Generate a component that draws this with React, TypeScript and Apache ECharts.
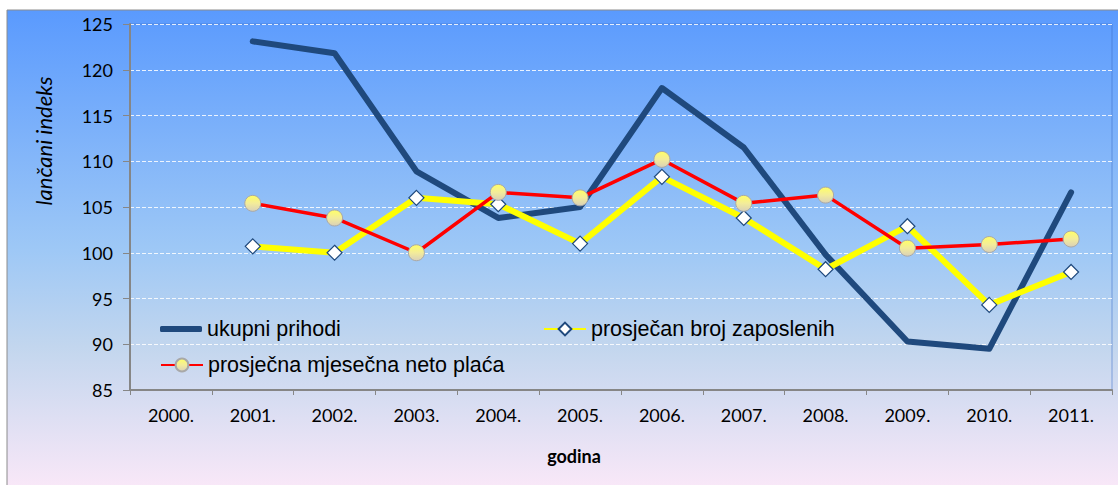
import React, { useEffect, useRef } from "react";
import * as echarts from "echarts";

const categories = ["2000.", "2001.", "2002.", "2003.", "2004.", "2005.", "2006.", "2007.", "2008.", "2009.", "2010.", "2011."];
const ukupniPrihodi = [null, 123.1, 121.8, 108.9, 103.8, 105.0, 118.0, 111.5, 99.8, 90.3, 89.5, 106.6];
const brojZaposlenih = [null, 100.7, 100.0, 106.0, 105.3, 101.0, 108.3, 103.8, 98.2, 102.9, 94.3, 97.9];
const netoPlaca = [null, 105.4, 103.8, 100.0, 106.6, 106.0, 110.2, 105.4, 106.3, 100.5, 100.9, 101.5];
const seriesNames = ["ukupni prihodi", "prosječan broj zaposlenih", "prosječna mjesečna neto plaća"];
const yAxisTitle = "lančani indeks";
const xAxisTitle = "godina";

export default function App() {
  const ref = useRef<HTMLDivElement>(null);
  useEffect(() => {
    const chart = echarts.init(ref.current!, null, { renderer: "svg" });
    const legendText = { fontSize: 21.5, fontFamily: "Liberation Sans, Arial, sans-serif", color: "#000" };
    const tickFont = { fontSize: 18, fontFamily: "Lato, sans-serif", color: "#000" };
    chart.setOption({
      animation: false,
      backgroundColor: "#ffffff",
      graphic: [
        {
          type: "rect",
          z: -100,
          silent: true,
          shape: { x: 7, y: 10, width: 1120, height: 480 },
          style: {
            fill: new echarts.graphic.LinearGradient(0, 0, 0, 1, [
              { offset: 0, color: "#5a9afe" },
              { offset: 0.5, color: "#9ec8f6" },
              { offset: 0.7, color: "#c2d6ee" },
              { offset: 1, color: "#fae8f8" },
            ]),
            stroke: "#8c8c8c",
            lineWidth: 1,
          },
        },
        {
          type: "text",
          x: 43,
          y: 141,
          rotation: Math.PI / 2,
          style: {
            text: yAxisTitle,
            fontSize: 22,
            fontStyle: "italic",
            fontFamily: "Lato, sans-serif",
            fill: "#000",
            textAlign: "center",
            textVerticalAlign: "middle",
          },
        },
        {
          type: "text",
          x: 574,
          y: 456,
          style: {
            text: xAxisTitle,
            fontSize: 18,
            fontWeight: "bold",
            fontFamily: "Lato, sans-serif",
            fill: "#000",
            textAlign: "center",
            textVerticalAlign: "middle",
          },
        },
      ],
      grid: {
        left: 130,
        top: 24,
        right: 6,
        bottom: 95,
        show: true,
        borderColor: "rgba(60,110,200,0.55)",
        borderWidth: 1,
        backgroundColor: "transparent",
      },
      legend: [
        {
          data: [{ name: seriesNames[0], icon: "roundRect" }],
          left: 160,
          top: 318,
          padding: 0,
          itemWidth: 42,
          itemHeight: 6,
          height: 22,
          textStyle: legendText,
        },
        {
          data: [seriesNames[1]],
          left: 543,
          top: 318,
          padding: 0,
          itemWidth: 42,
          itemHeight: 16,
          textStyle: legendText,
        },
        {
          data: [seriesNames[2]],
          left: 160,
          top: 354,
          padding: 0,
          itemWidth: 42,
          itemHeight: 16,
          textStyle: legendText,
        },
      ],
      xAxis: {
        type: "category",
        data: categories,
        boundaryGap: true,
        axisLine: { lineStyle: { color: "#868686", width: 2 } },
        axisTick: { show: true, length: 5, interval: 0, lineStyle: { color: "#868686", width: 1 } },
        axisLabel: { ...tickFont, margin: 16, interval: 0 },
        splitLine: { show: false },
      },
      yAxis: {
        type: "value",
        min: 85,
        max: 125,
        interval: 5,
        axisLine: { show: true, lineStyle: { color: "#868686", width: 2 } },
        axisTick: { show: true, length: 7, lineStyle: { color: "#868686", width: 1 } },
        axisLabel: { ...tickFont, margin: 17 },
        splitLine: { show: true, lineStyle: { color: "rgba(255,255,255,0.85)", type: [4, 2], width: 1 } },
      },
      series: [
        {
          name: seriesNames[0],
          type: "line",
          data: ukupniPrihodi,
          symbol: "none",
          color: "#1F497D",
          lineStyle: { color: "#1F497D", width: 6, cap: "round", join: "round" },
          itemStyle: { color: "#1F497D" },
        },
        {
          name: seriesNames[1],
          type: "line",
          data: brojZaposlenih,
          symbol: "diamond",
          symbolSize: 15,
          color: "#ffff00",
          lineStyle: { color: "#ffff00", width: 6, join: "round" },
          itemStyle: { color: "#ffffff", borderColor: "#1F497D", borderWidth: 1.2 },
        },
        {
          name: seriesNames[2],
          type: "line",
          data: netoPlaca,
          symbol: "circle",
          symbolSize: 16,
          color: "#ff0000",
          lineStyle: { color: "#ff0000", width: 3.5, join: "round" },
          itemStyle: {
            color: new echarts.graphic.LinearGradient(0, 0, 0, 1, [
              { offset: 0, color: "#ffff66" },
              { offset: 0.5, color: "#f3ec9a" },
              { offset: 1, color: "#d9d0b8" },
            ]),
            borderColor: "#a8a8a8",
            borderWidth: 1,
          },
        },
      ],
    });
    return () => chart.dispose();
  }, []);
  return <div ref={ref} style={{ position: "fixed", left: 0, top: 0, width: 1118, height: 485 }} />;
}
